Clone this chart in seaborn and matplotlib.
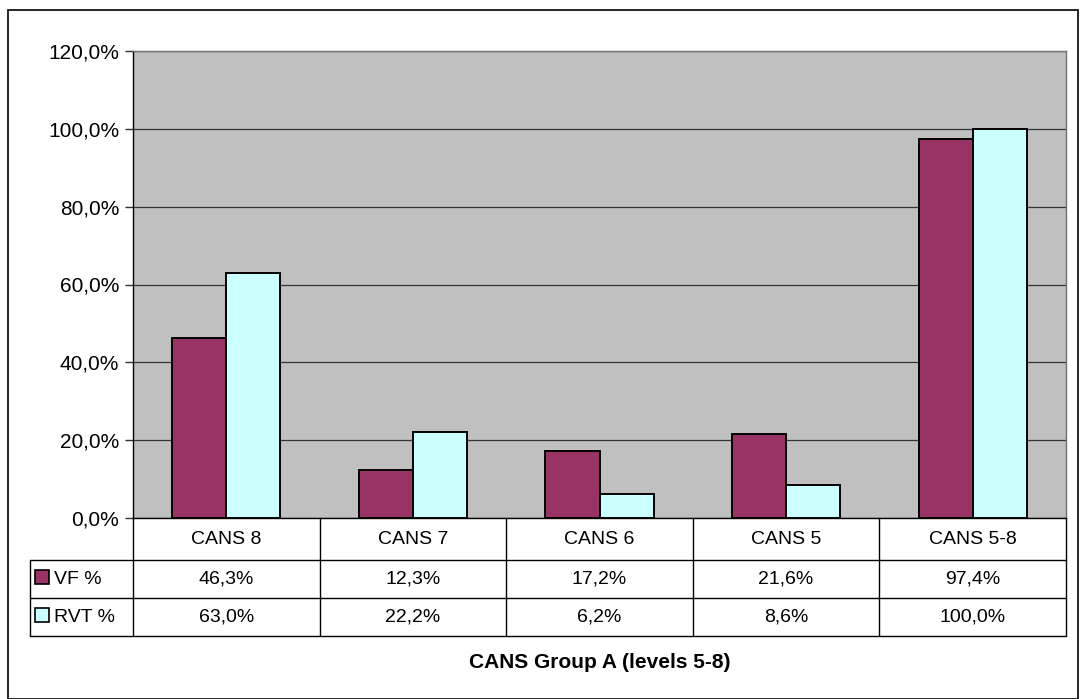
import seaborn as sns
import matplotlib.pyplot as plt
import pandas as pd
from matplotlib.patches import Rectangle

categories = ['CANS 8', 'CANS 7', 'CANS 6', 'CANS 5', 'CANS 5-8']
vf_pct = [46.3, 12.3, 17.2, 21.6, 97.4]
rvt_pct = [63.0, 22.2, 6.2, 8.6, 100.0]
series = ['VF %', 'RVT %']
y_ticks = [0, 20, 40, 60, 80, 100, 120]
title = 'CANS Group A (levels 5-8)'

colors = {'VF %': '#993366', 'RVT %': '#CCFFFF'}

df = pd.DataFrame({
    'group': categories * 2,
    'series': ['VF %'] * len(categories) + ['RVT %'] * len(categories),
    'value': vf_pct + rvt_pct,
})

sns.set_style('white')
plt.rcParams['font.family'] = ['Liberation Sans', 'DejaVu Sans']
plt.rcParams['text.color'] = 'black'
plt.rcParams['ytick.color'] = 'black'
plt.rcParams['ytick.labelcolor'] = 'black'

FS = 14

W, H = 1080, 699
fig = plt.figure(figsize=(10.8, 6.99), dpi=100)
# plot area in pixels: x 133..1066, y 51..518
px0, px1, py0, py1 = 133, 1066, 51, 518
ax = fig.add_axes([px0 / W, (H - py1) / H, (px1 - px0) / W, (py1 - py0) / H])
ax.set_facecolor('#C0C0C0')

sns.barplot(data=df, x='group', y='value', hue='series', order=categories,
            hue_order=series, palette=colors, saturation=1, width=0.58,
            edgecolor='black', linewidth=1.4, legend=False, ax=ax, zorder=3)

ax.set_ylim(0, 120)
ax.set_xlim(-0.5, len(categories) - 0.5)
ax.set_yticks(y_ticks)
ax.set_yticklabels([f'{v:.1f}%'.replace('.', ',') for v in y_ticks], fontsize=15)
ax.yaxis.grid(True, color='#333333', linewidth=0.9, zorder=0)
ax.set_axisbelow(True)
ax.tick_params(axis='y', direction='out', length=6, width=1, color='#333333', pad=4, left=True)
ax.set_xticks([])
ax.set_xlabel('')
ax.set_ylabel('')
for s in ['top', 'right']:
    ax.spines[s].set_color('#707070')
    ax.spines[s].set_linewidth(1)
for s in ['left', 'bottom']:
    ax.spines[s].set_color('black')
    ax.spines[s].set_linewidth(1)

# data table below the axes
ph = py1 - py0
pw = px1 - px0
def ay(py):
    return (py1 - py) / ph
def axx(px):
    return (px - px0) / pw

row_y = [518, 560, 598, 636]
left_x = 30
n = len(categories)
lk = dict(color='black', linewidth=1, transform=ax.transAxes, clip_on=False)
for y in row_y[1:]:
    ax.plot([axx(left_x), 1], [ay(y), ay(y)], **lk)
for i in range(n + 1):
    ax.plot([i / n, i / n], [ay(row_y[0]), ay(row_y[-1])], **lk)
ax.plot([axx(left_x), axx(left_x)], [ay(row_y[1]), ay(row_y[-1])], **lk)

for i, cat in enumerate(categories):
    xc = (i + 0.5) / n
    ax.text(xc, ay((row_y[0] + row_y[1]) / 2), cat, transform=ax.transAxes,
            ha='center', va='center', fontsize=FS)
    ax.text(xc, ay((row_y[1] + row_y[2]) / 2), f'{vf_pct[i]:.1f}%'.replace('.', ','),
            transform=ax.transAxes, ha='center', va='center', fontsize=FS)
    ax.text(xc, ay((row_y[2] + row_y[3]) / 2), f'{rvt_pct[i]:.1f}%'.replace('.', ','),
            transform=ax.transAxes, ha='center', va='center', fontsize=FS)

for j, s in enumerate(series):
    yc = (row_y[j + 1] + row_y[j + 2]) / 2
    sq = 14
    ax.add_patch(Rectangle((axx(35), ay(yc + sq / 2 - 2)), sq / pw, sq / ph,
                           facecolor=colors[s], edgecolor='black', linewidth=1.2,
                           transform=ax.transAxes, clip_on=False))
    ax.text(axx(54), ay(yc), s, transform=ax.transAxes, ha='left', va='center', fontsize=FS)

ax.text(0.5, ay(663), title, transform=ax.transAxes, ha='center', va='center',
        fontsize=15, fontweight='bold')

# outer chart border
fig.patches.append(Rectangle((8 / W, 0), 1070 / W, (H - 10) / H, transform=fig.transFigure,
                             facecolor='none', edgecolor='black', linewidth=1.2))

fig.savefig('out.png', dpi=100)
